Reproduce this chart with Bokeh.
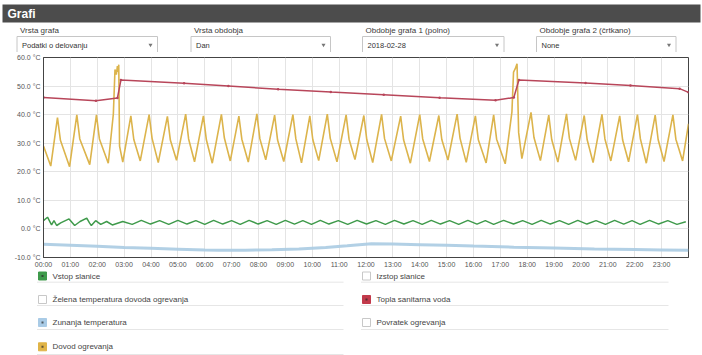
import numpy as np
from bokeh.plotting import figure
from bokeh.models import Range1d, FixedTicker, PrintfTickFormatter
from bokeh.core.properties import value
from bokeh.embed import file_html
from bokeh.resources import INLINE

FONT = value("Liberation Sans")

# ---------------- data ----------------
title = "Grafi"
sel_labels = ["Vrsta grafa", "Vrsta obdobja", "Obdobje grafa 1 (polno)", "Obdobje grafa 2 (črtkano)"]
sel_values = ["Podatki o delovanju", "Dan", "2018-02-28", "None"]

x_ticks = list(range(24))
x_tick_labels = ["%02d:00" % h for h in x_ticks]
y_ticks = [-10, 0, 10, 20, 30, 40, 50, 60]

# Topla sanitarna voda (red)
red_t = [0.0, 1.95, 2.75, 2.88, 5.23, 6.88, 8.73, 10.69, 12.66, 14.74, 16.82, 17.50, 17.69, 20.17, 21.84, 23.67, 24.0]
red_v = [46.0, 44.9, 45.8, 52.1, 51.0, 50.0, 48.9, 47.9, 47.0, 45.9, 45.0, 46.0, 52.1, 51.1, 50.2, 49.1, 47.8]

# Dovod ogrevanja (yellow)
yel_peak_t = [0.52, 1.24, 1.97, 3.25, 3.93, 4.61, 5.29, 5.95, 6.62, 7.27, 7.94, 8.60, 9.28, 9.91, 10.56, 11.26,
              11.92, 12.58, 13.29, 14.00, 14.71, 15.39, 16.07, 16.75, 18.14, 18.80, 19.46, 20.12, 20.78, 21.44,
              22.10, 22.76, 23.42]
yel_peak_v = [39.0, 39.9, 39.9, 39.6, 40.0, 39.4, 40.2, 39.6, 40.1, 39.5, 40.3, 39.8, 40.0, 39.6, 40.2, 39.9,
              39.7, 40.1, 39.5, 40.0, 39.7, 40.2, 39.6, 39.9, 40.8, 39.8, 40.3, 39.7, 40.1, 39.6,
              40.0, 39.8, 39.9]
yel_knee_t = [0.63, 1.35, 2.08, 3.36, 4.04, 4.72, 5.40, 6.06, 6.73, 7.38, 8.05, 8.71, 9.39, 10.02, 10.67, 11.37,
              12.03, 12.69, 13.40, 14.11, 14.82, 15.50, 16.18, 16.86, 18.25, 18.91, 19.57, 20.23, 20.89, 21.55,
              22.21, 22.87, 23.53]
yel_knee_v = [31.0, 31.5, 31.5, 31.3, 31.7, 31.1, 31.5, 31.2, 31.8, 31.4, 31.6, 31.1, 31.5, 31.3, 31.7, 31.4,
              31.2, 31.6, 31.1, 31.5, 31.3, 31.7, 31.2, 31.4, 32.0, 31.3, 31.6, 31.2, 31.5, 31.1,
              31.5, 31.3, 31.4]
yel_trough_t = [0.27, 0.97, 1.72, 2.41, 2.95, 3.60, 4.27, 4.95, 5.62, 6.28, 6.95, 7.62, 8.27, 8.94, 9.60, 10.24,
                10.92, 11.59, 12.25, 12.94, 13.65, 14.36, 15.05, 15.73, 16.47, 17.18, 17.80, 18.49, 19.14, 19.80,
                20.45, 21.11, 21.77, 22.43, 23.09, 23.78]
yel_trough_v = [22.0, 21.8, 22.5, 23.0, 23.4, 23.8, 23.2, 24.0, 23.5, 23.0, 23.8, 23.4, 24.2, 23.6, 23.1, 23.9,
                23.5, 24.3, 23.2, 23.8, 23.0, 23.6, 24.1, 23.3, 23.1, 22.8, 24.6, 23.9, 23.4, 24.0,
                23.2, 23.8, 23.5, 23.0, 23.6, 23.8]
yel_extra_t = [0.0, 2.60, 2.66, 2.71, 2.75, 2.78, 2.80, 2.83, 17.43, 17.49, 17.55, 17.62, 17.68, 24.0]
yel_extra_v = [29.0, 40.3, 55.8, 54.0, 57.0, 55.0, 57.5, 29.0, 41.0, 54.9, 56.0, 57.8, 33.7, 36.8]

# Vstop slanice (green)
grn_t = [0.0, 0.15, 0.25, 0.30, 0.39, 0.49, 0.64, 0.95, 1.08, 1.16, 1.36, 1.61, 1.71, 1.78, 1.94, 2.13, 2.35, 2.56,
         2.95, 3.30, 3.64, 3.98, 4.32, 4.66, 5.00, 5.34, 5.67, 6.00, 6.33, 6.67, 7.00, 7.32, 7.65, 7.99, 8.32,
         8.66, 9.00, 9.34, 9.65, 9.97, 10.30, 10.62, 10.97, 11.32, 11.67, 12.02, 12.37, 12.72, 13.06, 13.41,
         13.75, 14.09, 14.43, 14.77, 15.11, 15.45, 15.79, 16.13, 16.44, 16.75, 17.12, 17.49, 17.83, 18.18,
         18.52, 18.86, 19.20, 19.54, 19.88, 20.22, 20.56, 20.91, 21.25, 21.59, 21.90, 22.20, 22.55, 22.89,
         23.23, 23.57, 23.90, 24.0]
grn_v = [2.9, 4.1, 2.3, 1.4, 2.9, 1.2, 2.1, 3.5, 2.1, 1.2, 2.6, 3.8, 2.1, 1.2, 2.9, 1.6, 2.6, 1.4,
         2.6, 1.6, 3.0, 1.7, 2.9, 1.6, 3.0, 1.7, 2.9, 1.6, 3.0, 1.7, 2.9, 1.6, 3.0, 1.7,
         2.9, 1.6, 3.0, 1.7, 2.9, 1.6, 3.0, 1.7, 2.9, 1.6, 3.0, 1.7, 2.9, 1.6, 3.0,
         1.7, 2.9, 1.6, 3.0, 1.7, 2.9, 1.6, 3.0, 1.7, 2.9, 1.6, 3.0, 1.7, 2.9,
         1.6, 3.0, 1.7, 2.9, 1.6, 3.0, 1.7, 2.9, 1.6, 3.0, 1.7, 2.9, 1.6, 3.0,
         1.7, 2.9, 1.6, 2.5]

# Zunanja temperatura (light blue)
blu_t = [0, 1, 2, 3, 4, 5, 6, 6.5, 7.5, 8.5, 9.5, 10.5, 11.3, 12.2, 13, 14, 15, 16, 17.5, 19, 20.5, 22, 23, 24]
blu_v = [-5.4, -5.7, -6.1, -6.5, -6.8, -7.1, -7.4, -7.5, -7.45, -7.3, -7.0, -6.5, -5.9, -5.2, -5.3, -5.5,
         -5.7, -6.0, -6.4, -6.7, -7.0, -7.2, -7.35, -7.5]

legend_left = ["Vstop slanice", "Želena temperatura dovoda ogrevanja", "Zunanja temperatura", "Dovod ogrevanja"]
legend_left_col = ["#3f9a4b", None, "#a9cbe6", "#e0b447"]
legend_right = ["Izstop slanice", "Topla sanitarna voda", "Povratek ogrevanja"]
legend_right_col = [None, "#c23a4b", None]

RED = "#b8465a"
YEL = "#dcb44c"
GRN = "#3f9a4b"
BLU = "#aacbe2"

# ---------------- header ----------------
W = 702
H_HDR = 52
hdr = figure(width=W, height=H_HDR, x_range=Range1d(0, W), y_range=Range1d(H_HDR, 0),
             output_backend="svg", toolbar_location=None, min_border=0,
             x_axis_location=None, y_axis_location=None, outline_line_color=None)
hdr.grid.visible = False
hdr.quad(left=[2], right=[700], top=[4], bottom=[22], fill_color="#4c4c4c", line_color=None)
hdr.text(x=[7], y=[13], text=[title], text_font=FONT, text_font_size="12px", text_font_style="bold",
         text_color="white", text_baseline="middle")
box_l = [16.5, 190.5, 362, 536]
box_r = [157, 330, 503.5, 675.5]
hdr.quad(left=box_l, right=box_r, top=[36] * 4, bottom=[52] * 4, fill_color="white",
         line_color="#c6c6c6", line_width=1)
hdr.text(x=[b + 3 for b in box_l], y=[29.5] * 4, text=sel_labels, text_font=FONT, text_font_size="8px",
         text_color="#3a3a3a", text_baseline="middle")
hdr.text(x=[b + 5 for b in box_l], y=[44.5] * 4, text=sel_values, text_font=FONT, text_font_size="7.5px",
         text_color="#333333", text_baseline="middle")
hdr.scatter(x=[r - 7 for r in box_r], y=[44.5] * 4, marker="inverted_triangle", size=4,
            fill_color="#777777", line_color=None)

# ---------------- main chart ----------------
p = figure(width=W, height=218, x_range=Range1d(0, 24), y_range=Range1d(-10, 60),
           output_backend="svg", toolbar_location=None,
           min_border_left=43, min_border_right=14, min_border_top=5, min_border_bottom=13,
           outline_line_color="#444444", outline_line_width=1)
p.xaxis.ticker = FixedTicker(ticks=x_ticks)
p.xaxis.major_label_overrides = {t: l for t, l in zip(x_ticks, x_tick_labels)}
p.yaxis.ticker = FixedTicker(ticks=y_ticks)
p.yaxis.formatter = PrintfTickFormatter(format="%.1f °C")
for ax in (p.xaxis[0], p.yaxis[0]):
    ax.major_tick_out = 0
    ax.major_tick_in = 0
    ax.minor_tick_out = 0
    ax.minor_tick_in = 0
    ax.axis_line_color = "#444444"
    ax.major_label_text_font = "Liberation Sans"
    ax.major_label_text_font_size = "7px"
    ax.major_label_text_color = "#555555"
    ax.major_label_standoff = 3
p.xgrid.ticker = FixedTicker(ticks=x_ticks)
p.ygrid.ticker = FixedTicker(ticks=y_ticks)
p.grid.grid_line_color = "#e4e4e4"

# yellow series, assembled from the read points in time order
yt = np.array(yel_peak_t + yel_knee_t + yel_trough_t + yel_extra_t)
yv = np.array(yel_peak_v + yel_knee_v + yel_trough_v + yel_extra_v)
order = np.argsort(yt, kind="stable")

p.line(blu_t, blu_v, line_color=BLU, line_width=3, line_alpha=0.9)
p.line(grn_t, grn_v, line_color=GRN, line_width=1.5)
p.line(yt[order], yv[order], line_color=YEL, line_width=1.6)
p.line(red_t, red_v, line_color=RED, line_width=1.5)
p.scatter(red_t, red_v, size=2.5, fill_color=RED, line_color=None)

# ---------------- legend ----------------
H_LEG = 85
leg = figure(width=W, height=H_LEG, x_range=Range1d(0, W), y_range=Range1d(H_LEG, 0),
             output_backend="svg", toolbar_location=None, min_border=0,
             x_axis_location=None, y_axis_location=None, outline_line_color=None)
leg.grid.visible = False
rows_y = [5.5, 29.0, 52.0, 76.3]
sep_y = [11.7, 35.0, 59.0, 84.0]

def draw_col(labels, cols, bx, tx, x_end):
    n = len(labels)
    ys = rows_y[:n]
    leg.segment(x0=[bx - 1.5] * n, x1=[x_end] * n, y0=sep_y[:n], y1=sep_y[:n],
                line_color="#e6e6e6", line_width=1)
    for lab, c, yy in zip(labels, cols, ys):
        if c is None:
            leg.quad(left=[bx], right=[bx + 8], top=[yy - 4], bottom=[yy + 4],
                     fill_color="white", line_color="#c8c8c8", line_width=1)
        else:
            leg.quad(left=[bx], right=[bx + 8], top=[yy - 4], bottom=[yy + 4],
                     fill_color=c, line_color=c, line_width=1)
            leg.scatter(x=[bx + 4], y=[yy], marker="square", size=2, fill_color="#2a2a2a",
                        line_color=None, fill_alpha=0.7)
    leg.text(x=[tx] * n, y=ys, text=labels, text_font=FONT, text_font_size="8px",
             text_color="#444444", text_baseline="middle")

draw_col(legend_left, legend_left_col, 38, 52, 343)
draw_col(legend_right, legend_right_col, 362, 376, 668)

# three separate roots so that their frames are not aligned with each other
open("out.html", "w").write(file_html([hdr, p, leg], INLINE))
